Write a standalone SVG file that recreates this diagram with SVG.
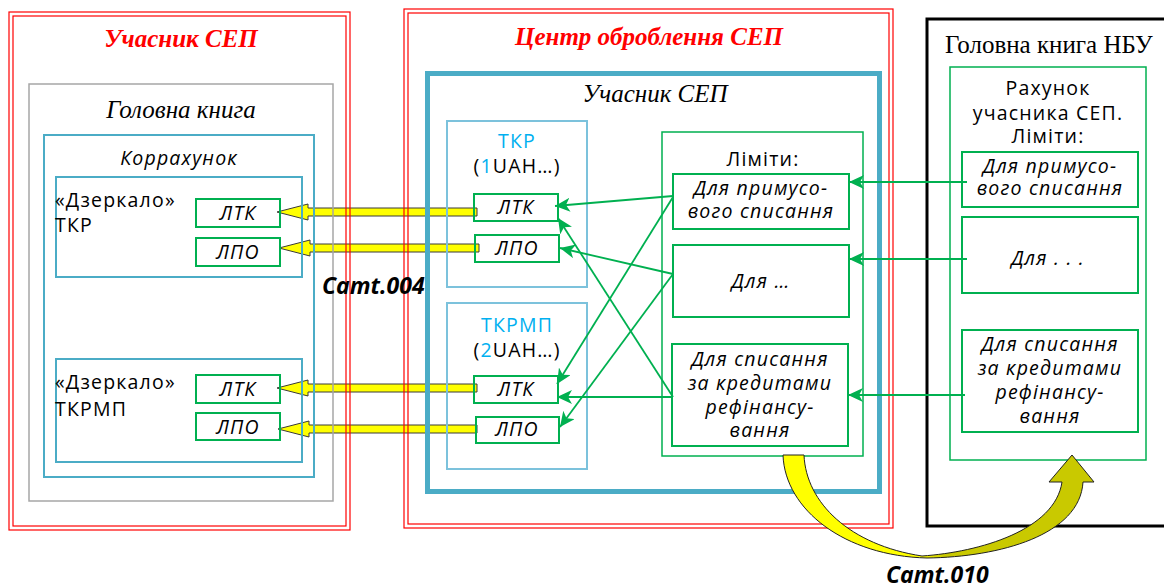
<svg xmlns="http://www.w3.org/2000/svg" width="1164" height="585" viewBox="0 0 1164 585">
<style>
.red{fill:none;stroke:#FF0000;stroke-width:1.2}
.gray{fill:none;stroke:#A6A6A6;stroke-width:1.5}
.cy{fill:none;stroke:#4BACC6;stroke-width:2}
.cyl{fill:none;stroke:#7CC2DC;stroke-width:2}
.gr{fill:none;stroke:#00B050;stroke-width:2}
.grl{fill:none;stroke:#00B050;stroke-width:1.5}
.blk{fill:none;stroke:#000;stroke-width:3}
.serif{font-family:"Liberation Serif",serif;font-size:25px}
.sans{font-family:"Open Sans",sans-serif;font-size:19.5px;letter-spacing:1.2px}
.it{font-style:italic}
.title{font-family:"Liberation Serif",serif;font-size:25px;font-weight:bold;font-style:italic;fill:#FF0000}
.camt{font-family:"Open Sans",sans-serif;font-size:23px;font-weight:bold;font-style:italic}
.m{text-anchor:middle}
.blue{fill:#00B0F0}
.ya{fill:#FFFF00;stroke:#3A3A3A;stroke-width:1}
.conn{fill:none;stroke:#00B050;stroke-width:1.8;marker-end:url(#ah)}
</style>
<defs>
<marker id="ah" markerWidth="16" markerHeight="14" refX="15" refY="7" orient="auto" markerUnits="userSpaceOnUse">
<path d="M0,0 L15,7 L0,14 L4,7 z" fill="#00B050"/>
</marker>
<linearGradient id="cg" gradientUnits="userSpaceOnUse" x1="783" y1="0" x2="1094" y2="0">
<stop offset="0" stop-color="#FFFF00"/>
<stop offset="0.44" stop-color="#FFFF00"/>
<stop offset="0.52" stop-color="#C9C900"/>
<stop offset="1" stop-color="#C9C900"/>
</linearGradient>
</defs>
<rect width="1164" height="585" fill="#FFFFFF"/>

<g id="yellow-arrows">
<polygon class="ya" points="477,208 308,208 308,204 277,212 308,220 308,216 477,216"/>
<polygon class="ya" points="479,244 310,244 310,240 279,248 310,256 310,252 479,252"/>
<polygon class="ya" points="477,384 308,384 308,380 277,388 308,396 308,392 477,392"/>
<polygon class="ya" points="477,425 309,425 309,421 278,429 309,437 309,433 477,433"/>
</g>

<g id="participant">
<rect class="red" x="9" y="12" width="341" height="518"/>
<rect class="red" x="13" y="16" width="333" height="510"/>
<text class="title m" x="181" y="47">Учасник СЕП</text>
</g>
<g id="ledger">
<rect class="gray" x="29" y="84" width="304" height="417"/>
<text class="serif it m" x="181" y="118">Головна книга</text>
</g>
<g id="corr">
<rect class="cy" x="44" y="135" width="270" height="342"/>
<text class="sans it m" x="179" y="165">Коррахунок</text>
</g>
<g id="mirror-tkr">
<rect class="cy" x="56" y="177" width="246" height="100"/>
<text class="sans" x="55" y="207">«Дзеркало»</text>
<text class="sans" x="55" y="232">ТКР</text>
</g>
<g id="m-ltk1"><rect class="gr" x="196" y="199" width="84" height="28"/><text class="sans it m" x="238" y="220">ЛТК</text></g>
<g id="m-lpo1"><rect class="gr" x="196" y="238" width="84" height="28"/><text class="sans it m" x="238" y="259">ЛПО</text></g>
<g id="mirror-tkrmp">
<rect class="cy" x="56" y="359" width="246" height="103"/>
<text class="sans" x="55" y="389">«Дзеркало»</text>
<text class="sans" x="55" y="416">ТКРМП</text>
</g>
<g id="m-ltk2"><rect class="gr" x="196" y="375" width="84" height="28"/><text class="sans it m" x="238" y="396">ЛТК</text></g>
<g id="m-lpo2"><rect class="gr" x="196" y="413" width="84" height="27"/><text class="sans it m" x="238" y="434">ЛПО</text></g>

<g id="center">
<rect class="red" x="404" y="9" width="489" height="519"/>
<rect class="red" x="408" y="13" width="481" height="511"/>
<text class="title m" x="649" y="45">Центр оброблення СЕП</text>
</g>
<g id="center-participant">
<rect fill="none" stroke="#4BACC6" stroke-width="5" x="427.5" y="73.5" width="452" height="418"/>
<text class="serif it m" x="655" y="102">Учасник СЕП</text>
</g>
<g id="tkr">
<rect class="cyl" x="447" y="121" width="140" height="166"/>
<text class="sans m blue" x="517" y="148">ТКР</text>
<text class="sans m" x="517" y="173">(<tspan class="blue">1</tspan>UAH…)</text>
</g>
<g id="tkr-ltk"><rect class="gr" x="474" y="194" width="84" height="27"/><text class="sans it m" x="516" y="214">ЛТК</text></g>
<g id="tkr-lpo"><rect class="gr" x="475" y="235" width="84" height="27"/><text class="sans it m" x="517" y="255">ЛПО</text></g>
<g id="tkrmp">
<rect class="cyl" x="447" y="303" width="140" height="166"/>
<text class="sans m blue" x="517" y="332">ТКРМП</text>
<text class="sans m" x="517" y="357">(<tspan class="blue">2</tspan>UAH…)</text>
</g>
<g id="tkrmp-ltk"><rect class="gr" x="474" y="376" width="84" height="27"/><text class="sans it m" x="516" y="396">ЛТК</text></g>
<g id="tkrmp-lpo"><rect class="gr" x="476" y="417" width="83" height="26"/><text class="sans it m" x="517" y="436">ЛПО</text></g>

<g id="limits">
<rect class="grl" x="662" y="132" width="201" height="324"/>
<text class="sans m" x="763" y="166">Ліміти:</text>
</g>
<g id="lim-forced">
<rect class="gr" x="673" y="174" width="176" height="55"/>
<text class="sans it m" x="761" y="195">Для примусо-</text>
<text class="sans it m" x="761" y="218">вого списання</text>
</g>
<g id="lim-other">
<rect class="gr" x="673" y="245" width="176" height="72"/>
<text class="sans it m" x="761" y="288">Для …</text>
</g>
<g id="lim-refin">
<rect class="gr" x="672" y="344" width="176" height="102"/>
<text class="sans it m" x="760" y="366">Для списання</text>
<text class="sans it m" x="760" y="390">за кредитами</text>
<text class="sans it m" x="760" y="414">рефінансу-</text>
<text class="sans it m" x="760" y="437">вання</text>
</g>

<g id="nbu">
<rect class="blk" x="927" y="19" width="250" height="507"/>
<text class="serif" x="945" y="53">Головна книга НБУ</text>
</g>
<g id="nbu-account">
<rect class="grl" x="950" y="67" width="196" height="393"/>
<text class="sans m" x="1048" y="95">Рахунок</text>
<text class="sans m" x="1048" y="120">учасника СЕП.</text>
<text class="sans m" x="1048" y="143">Ліміти:</text>
</g>
<g id="nbu-forced">
<rect class="gr" x="962" y="152" width="176" height="55"/>
<text class="sans it m" x="1050" y="173">Для примусо-</text>
<text class="sans it m" x="1050" y="195">вого списання</text>
</g>
<g id="nbu-other">
<rect class="gr" x="962" y="217" width="176" height="76"/>
<text class="sans it m" x="1048" y="265">Для . . .</text>
</g>
<g id="nbu-refin">
<rect class="gr" x="962" y="330" width="176" height="102"/>
<text class="sans it m" x="1050" y="351">Для списання</text>
<text class="sans it m" x="1050" y="375">за кредитами</text>
<text class="sans it m" x="1050" y="399">рефінансу-</text>
<text class="sans it m" x="1050" y="423">вання</text>
</g>

<g id="connectors">
<line class="conn" x1="967" y1="182" x2="849" y2="182"/>
<line class="conn" x1="967" y1="259" x2="849" y2="259"/>
<line class="conn" x1="965" y1="395" x2="848" y2="395"/>
<line class="conn" x1="673" y1="196" x2="555" y2="206"/>
<line class="conn" x1="673" y1="197" x2="557" y2="384"/>
<line class="conn" x1="673" y1="274" x2="560" y2="248"/>
<line class="conn" x1="673" y1="274" x2="560" y2="427"/>
<line class="conn" x1="673" y1="397" x2="558" y2="218"/>
<line class="conn" x1="673" y1="397" x2="557" y2="397"/>
<path id="camt010-arrow" d="M783,455 L804,455 C806,503 850,545 922,556 C980,552 1055,530 1062,482 L1049,482 L1072,455 L1094,482 L1083,482 C1080,535 1000,557 927,558 C845,556 785,510 783,455 Z" fill="url(#cg)" stroke="#222" stroke-width="1"/>
</g>
<text class="camt" x="322" y="294">Camt.004</text>
<text class="camt" x="886" y="583">Camt.010</text>
</svg>
